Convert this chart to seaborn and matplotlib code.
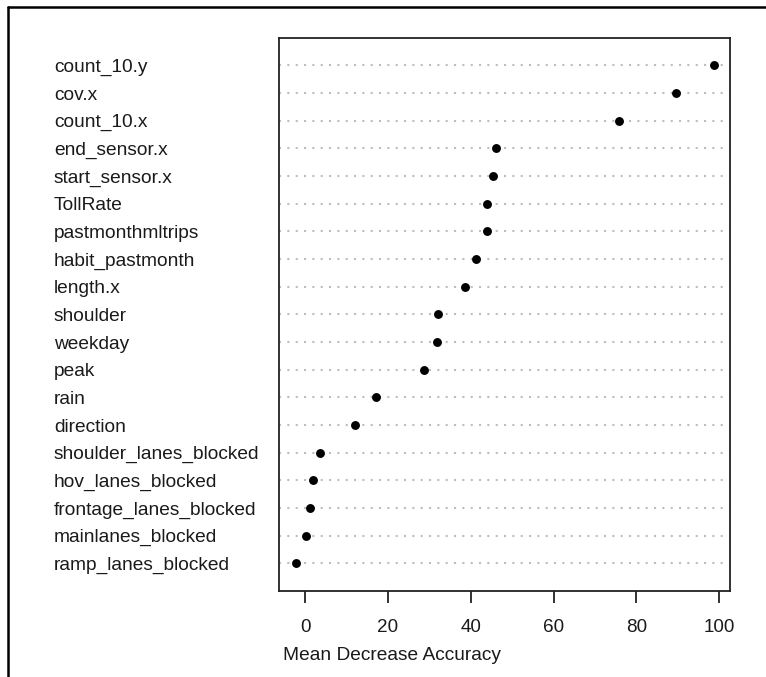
import matplotlib
matplotlib.use("Agg")
import matplotlib.pyplot as plt
from matplotlib.lines import Line2D
import seaborn as sns
import pandas as pd

features = ["count_10.y", "cov.x", "count_10.x", "end_sensor.x", "start_sensor.x",
            "TollRate", "pastmonthmltrips", "habit_pastmonth", "length.x", "shoulder",
            "weekday", "peak", "rain", "direction", "shoulder_lanes_blocked",
            "hov_lanes_blocked", "frontage_lanes_blocked", "mainlanes_blocked",
            "ramp_lanes_blocked"]
importance = [98.8, 89.5, 75.8, 46.1, 45.3, 44.0, 44.0, 41.3, 38.6, 32.1,
              31.8, 28.6, 17.1, 12.0, 3.5, 1.8, 1.2, 0.25, -2.3]
x_ticks = [0, 20, 40, 60, 80, 100]

df = pd.DataFrame({"feature": features, "MeanDecreaseAccuracy": importance})

sns.set_theme(style="white")
plt.rcParams["font.family"] = ["Liberation Sans", "DejaVu Sans"]

fig = plt.figure(figsize=(7.66, 6.77), dpi=100)
ax = fig.add_axes([0.3638, 0.127, 0.953 - 0.3638, 0.9443 - 0.127])

sns.stripplot(data=df, x="MeanDecreaseAccuracy", y="feature", order=features,
              jitter=False, color="black", size=6.4, linewidth=0, ax=ax, zorder=3)

ax.set_xlim(-6.43, 102.66)
ax.set_ylim(len(features), -1)
ax.set_xticks(x_ticks)
ax.set_xticklabels([str(t) for t in x_ticks], fontsize=13.6, color="#1a1a1a")
ax.grid(axis="y", linestyle=(0, (1, 3)), color="#bdbdbd", linewidth=1.5)
ax.grid(axis="x", visible=False)
ax.set_axisbelow(True)

ax.tick_params(axis="x", direction="out", length=8.5, width=1.3, color="#222222",
               pad=12, bottom=True)
ax.tick_params(axis="y", length=0, pad=161.8)
for lbl in ax.get_yticklabels():
    lbl.set_horizontalalignment("left")
    lbl.set_fontsize(13.8)
    lbl.set_color("#1a1a1a")

ax.set_ylabel("")
ax.set_xlabel("Mean Decrease Accuracy", fontsize=13.8, color="#1a1a1a")
ax.xaxis.label.set_verticalalignment("center")
ax.xaxis.set_label_coords((392 - 278.7) / (730 - 278.7), (591 - 655) / (591 - 37.7))

for sp in ax.spines.values():
    sp.set_visible(True)
    sp.set_color("#222222")
    sp.set_linewidth(1.3)

# outer frame (top and left edges)
fig.add_artist(Line2D([7.5 / 766, 1.0], [1 - 7 / 677, 1 - 7 / 677],
                      transform=fig.transFigure, color="black", linewidth=1.8))
fig.add_artist(Line2D([7.5 / 766, 7.5 / 766], [0.0, 1 - 7 / 677],
                      transform=fig.transFigure, color="black", linewidth=1.8))

fig.savefig("out.png", dpi=100)
